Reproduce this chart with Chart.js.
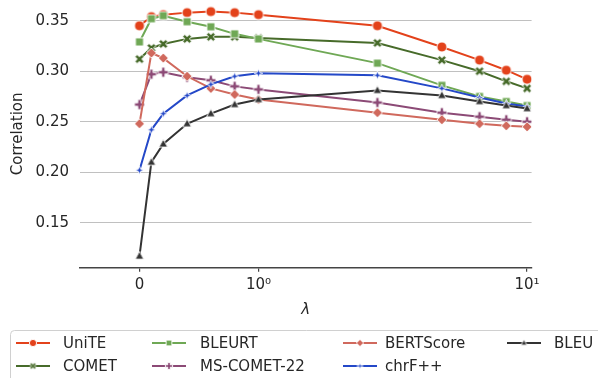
<!DOCTYPE html>
<html>
<head>
<meta charset="utf-8">
<script src="https://cdn.jsdelivr.net/npm/chart.js@4.4.1/dist/chart.umd.min.js"></script>
<style>
html, body { margin: 0; padding: 0; background: #fff; }
#wrap { width: 598px; height: 378px; }
</style>
</head>
<body>
<div id="wrap"><canvas id="chart" width="598" height="378"></canvas></div>
<script>
//Lambda values on the x axis
const lambdas = [0, 0.1, 0.2, 0.4, 0.6, 0.8, 1, 2, 4, 6, 8, 10];

//Correlation of each metric
const unite      = [0.345, 0.354, 0.356, 0.358, 0.359, 0.358, 0.356, 0.345, 0.324, 0.311, 0.301, 0.292];
const comet      = [0.312, 0.323, 0.327, 0.332, 0.334, 0.334, 0.333, 0.328, 0.311, 0.300, 0.290, 0.283];
const bleurt     = [0.329, 0.352, 0.355, 0.349, 0.344, 0.337, 0.332, 0.308, 0.286, 0.275, 0.270, 0.266];
const msComet22  = [0.267, 0.297, 0.299, 0.294, 0.291, 0.285, 0.282, 0.269, 0.259, 0.255, 0.252, 0.250];
const bertScore  = [0.248, 0.318, 0.313, 0.295, 0.283, 0.277, 0.272, 0.259, 0.252, 0.248, 0.246, 0.245];
const chrF       = [0.202, 0.242, 0.258, 0.276, 0.287, 0.295, 0.298, 0.296, 0.283, 0.274, 0.268, 0.265];
const bleu       = [0.117, 0.210, 0.228, 0.248, 0.258, 0.267, 0.272, 0.281, 0.276, 0.270, 0.266, 0.263];

const seriesNames = ['UniTE', 'COMET', 'BLEURT', 'MS-COMET-22', 'BERTScore', 'chrF++', 'BLEU'];
const seriesValues = [unite, comet, bleurt, msComet22, bertScore, chrF, bleu];

//Tick labels
const xTicks = [0, 1, 10];
const xTickLabels = ['0', '10\u2070', '10\u00B9'];
const yTicks = [0.15, 0.20, 0.25, 0.30, 0.35];

//Styles
const colors = ['#e3421b', '#476b2a', '#6fa855', '#8c4a76', '#d0695d', '#2448c8', '#333333'];
const shapes = ['circle', 'X', 'square', 'P', 'diamond', 'star4', 'triangle'];
const sizes = [10, 9.5, 8, 10, 10, 8.5, 9.5];

const FONT = 'DejaVu Sans';
const TEXT = '#262626';

//Symlog transform (linthresh 2, linscale 1, base 10)
const LT = 2;
const LS = 1 / (1 - 1 / 10);
function tf(v) {
    const a = Math.abs(v);
    if (a <= LT) return v * LS;
    return Math.sign(v) * LT * (LS + Math.log10(a / LT));
}
function itf(t) {
    const a = Math.abs(t);
    if (a <= LT * LS) return t / LS;
    return Math.sign(t) * LT * Math.pow(10, a / LT - LS);
}

class SymlogScale extends Chart.LinearScale {
    static id = 'symlog';
    static defaults = {};
    buildTicks() {
        return xTicks.map(v => ({value: v}));
    }
    getPixelForValue(value) {
        const t0 = tf(this.min), t1 = tf(this.max);
        return this.getPixelForDecimal((tf(value) - t0) / (t1 - t0));
    }
    getValueForPixel(pixel) {
        const t0 = tf(this.min), t1 = tf(this.max);
        return itf(t0 + this.getDecimalForPixel(pixel) * (t1 - t0));
    }
}
Chart.register(SymlogScale);

//Build a marker image the way seaborn draws them (filled with white edge)
function makeMarker(shape, color, s) {
    const size = Math.ceil(s + 4);
    const c = document.createElement('canvas');
    c.width = size;
    c.height = size;
    const g = c.getContext('2d');
    g.translate(size / 2, size / 2);
    const r = s / 2;
    g.beginPath();
    if (shape === 'circle') {
        g.arc(0, 0, r, 0, Math.PI * 2);
    } else if (shape === 'square') {
        g.rect(-r, -r, 2 * r, 2 * r);
    } else if (shape === 'diamond') {
        g.moveTo(0, -r); g.lineTo(r, 0); g.lineTo(0, r); g.lineTo(-r, 0);
    } else if (shape === 'triangle') {
        g.moveTo(0, -r); g.lineTo(r * 0.9, r * 0.65); g.lineTo(-r * 0.9, r * 0.65);
    } else if (shape === 'star4') {
        const ri = r * 0.38;
        for (let k = 0; k < 8; k++) {
            const ang = -Math.PI / 2 + k * Math.PI / 4;
            const rr = k % 2 === 0 ? r : ri;
            const px = rr * Math.cos(ang), py = rr * Math.sin(ang);
            if (k === 0) g.moveTo(px, py); else g.lineTo(px, py);
        }
    } else {
        //plus polygon, rotated 45 degrees for the X
        const t = r * 0.34;
        const pts = [[t, r], [t, t], [r, t], [r, -t], [t, -t], [t, -r], [-t, -r], [-t, -t], [-r, -t], [-r, t], [-t, t], [-t, r]];
        const rot = shape === 'X' ? Math.PI / 4 : 0;
        pts.forEach((p, k) => {
            const px = p[0] * Math.cos(rot) - p[1] * Math.sin(rot);
            const py = p[0] * Math.sin(rot) + p[1] * Math.cos(rot);
            if (k === 0) g.moveTo(px, py); else g.lineTo(px, py);
        });
    }
    g.closePath();
    g.fillStyle = color;
    g.fill();
    g.strokeStyle = '#ffffff';
    g.lineWidth = 0.9;
    g.stroke();
    return c;
}

const markers = shapes.map((s, i) => makeMarker(s, colors[i], sizes[i]));
const legendMarkers = shapes.map((s, i) => makeMarker(s, colors[i], sizes[i] * 0.72));

const datasets = seriesNames.map((name, i) => ({
    label: name,
    data: lambdas.map((x, k) => ({x: x, y: seriesValues[i][k]})),
    borderColor: colors[i],
    backgroundColor: colors[i],
    borderWidth: 2,
    pointStyle: markers[i],
    pointRadius: sizes[i] / 2,
    order: seriesNames.length - i
}));

//Legend drawn in columns, like matplotlib with ncol=4
const legendColX = [16, 152, 343, 507];
const legendTextX = [63, 200, 385, 554];
const legendRowY = [343, 366];

const columnLegend = {
    id: 'columnLegend',
    afterDraw(chart) {
        const ctx = chart.ctx;
        ctx.save();
        ctx.beginPath();
        ctx.roundRect(10.5, 330.5, 620, 70, 4);
        ctx.fillStyle = 'rgba(255,255,255,0.8)';
        ctx.fill();
        ctx.strokeStyle = '#d0d0d0';
        ctx.lineWidth = 1;
        ctx.stroke();
        ctx.font = '15px "' + FONT + '"';
        ctx.textBaseline = 'middle';
        ctx.fillStyle = TEXT;
        seriesNames.forEach((name, i) => {
            const col = Math.floor(i / 2);
            const row = i % 2;
            const x0 = legendColX[col];
            const y = legendRowY[row];
            ctx.beginPath();
            ctx.moveTo(x0, y);
            ctx.lineTo(x0 + 34, y);
            ctx.strokeStyle = colors[i];
            ctx.lineWidth = 2;
            ctx.stroke();
            const m = legendMarkers[i];
            ctx.drawImage(m, x0 + 17 - m.width / 2, y - m.height / 2);
            ctx.fillStyle = TEXT;
            ctx.fillText(name, legendTextX[col], y + 1);
        });
        ctx.restore();
    }
};

Chart.defaults.font.family = FONT;
Chart.defaults.font.size = 15;
Chart.defaults.color = TEXT;

new Chart(document.getElementById('chart'), {
    type: 'line',
    data: {datasets: datasets},
    options: {
        responsive: false,
        animation: false,
        layout: {autoPadding: false, padding: {left: 0, right: 66.4, top: 0, bottom: 0}},
        plugins: {
            legend: {display: false},
            tooltip: {enabled: false}
        },
        scales: {
            x: {
                type: 'symlog',
                min: -0.5,
                max: 10.5,
                grid: {drawOnChartArea: false, drawTicks: true, tickLength: 4, color: '#444444', lineWidth: 1.2},
                border: {display: true, color: '#444444', width: 1.5},
                ticks: {
                    padding: 4,
                    maxRotation: 0,
                    autoSkip: false,
                    callback: (v) => xTickLabels[xTicks.indexOf(v)]
                },
                title: {
                    display: true,
                    text: '\u03BB',
                    font: {style: 'italic', size: 15},
                    padding: {top: 0, bottom: 59}
                },
                afterFit: (s) => {
                    s.height = 378 - 267.7;
                    s.paddingLeft = 0;
                    s.paddingRight = 0;
                }
            },
            y: {
                min: 0.1055,
                max: 0.3705,
                grid: {color: '#c0c0c0', lineWidth: 1, drawTicks: false},
                border: {display: false},
                ticks: {
                    padding: 11,
                    callback: (v) => v.toFixed(2)
                },
                afterBuildTicks: (s) => {
                    s.ticks = yTicks.map(v => ({value: v}));
                },
                title: {
                    display: true,
                    text: 'Correlation',
                    padding: {top: 9, bottom: 0}
                },
                afterFit: (s) => {
                    s.width = 80;
                    s.paddingTop = 0;
                    s.paddingBottom = 0;
                }
            }
        }
    },
    plugins: [columnLegend]
});
</script>
</body>
</html>
